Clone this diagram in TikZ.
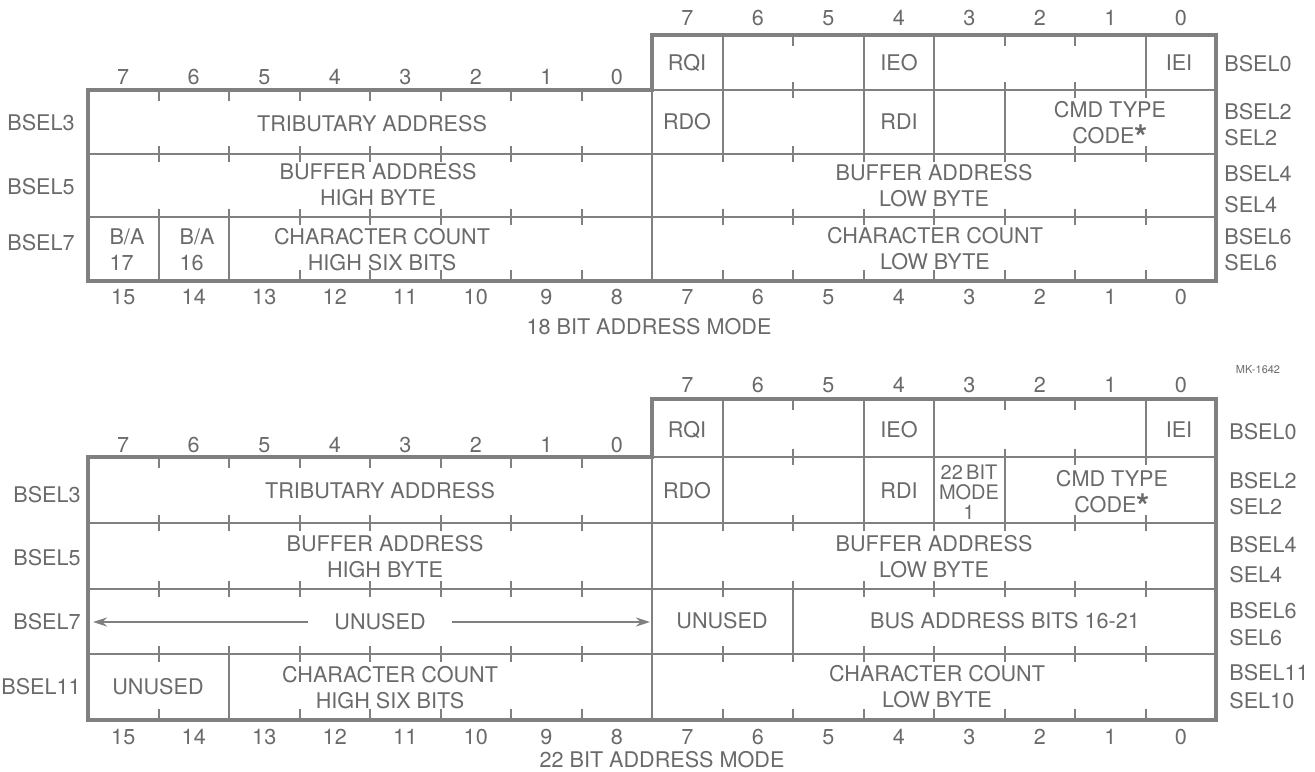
\documentclass[tikz,border=0pt]{standalone}
\usepackage{fontspec}
\setmainfont{TeX Gyre Heros}
\usetikzlibrary{arrows.meta}
\definecolor{ink}{HTML}{808080}
\definecolor{txt}{HTML}{6A6A6A}
\newcommand\fld{\fontsize{10.8}{13}\selectfont}
\newcommand\cmdstar{\raisebox{-3pt}[0pt][0pt]{\fontsize{17}{17}\selectfont\bfseries*}}
\tikzset{frame/.style={draw=ink,line width=1.7pt},rule/.style={draw=ink,line width=1.4pt},divider/.style={draw=ink,line width=1pt},tick/.style={draw=ink,line width=1pt},field/.style={text=txt,font=\fld,align=center,inner sep=0pt},bitno/.style={text=txt,font=\fld,inner sep=0pt},reg/.style={text=txt,font=\fld,inner sep=0pt},arr/.style={draw=ink,line width=1pt,-{Stealth[length=7pt,width=4.5pt]}}}

\begin{document}
\begin{tikzpicture}[x=0.5pt,y=-0.5pt]
\useasboundingbox (0,0) rectangle (1315,771);
% 18 bit address mode
\draw[frame] (88,90) -- (652,90) -- (652,35) -- (1216,35) -- (1216,281) -- (88,281) -- cycle;
\draw[rule] (652,90) -- (1216,90) (88,154) -- (1216,154) (88,217) -- (1216,217) (652,90) -- (652,281);
\foreach \k in {9,11,12,15}\draw[divider] ({88+70.5*\k},35) -- ({88+70.5*\k},90);
\foreach \k in {9,11,12,13}\draw[divider] ({88+70.5*\k},90) -- ({88+70.5*\k},154);
\foreach \k in {1,2}\draw[divider] ({88+70.5*\k},217) -- ({88+70.5*\k},281);
\foreach \k in {1,...,7}\draw[tick] ({88+70.5*\k},90) -- ++(0,11);
\foreach \k in {9,...,15}\draw[tick] ({88+70.5*\k},35) -- ++(0,11) ({88+70.5*\k},82) -- ++(0,16);
\foreach \k in {1,...,15}\draw[tick] ({88+70.5*\k},146) -- ++(0,16) ({88+70.5*\k},209) -- ++(0,16) ({88+70.5*\k},281) -- ++(0,-11);
\foreach \b [count=\i from 0] in {7,6,...,0}{
  \node[bitno] (ta\i) at ({687.25+70.5*\i},18) {\b};
  \node[bitno] (la\i) at ({123.25+70.5*\i},77) {\b};}
\foreach \b [count=\i from 0] in {15,14,...,0}\node[bitno] (ba\i) at ({123.25+70.5*\i},297) {\b};
\node[field] (rqia) at (687,63) {RQI};
\node[field] (ieoa) at (899,63) {IEO};
\node[field] (ieia) at (1179,63) {IEI};
\node[field] (rdoa) at (687,122) {RDO};
\node[field] (rdia) at (899,122) {RDI};
\node[field] (cmda) at (1110,123) {CMD TYPE\\CODE\cmdstar};
\node[field] (triba) at (372,124) {TRIBUTARY ADDRESS};
\node[field] (bufha) at (378,185) {BUFFER ADDRESS\\HIGH BYTE};
\node[field] (bufla) at (934,186) {BUFFER ADDRESS\\LOW BYTE};
\node[field,align=left] (ba17) at (127,249.5) {B/A\\17};
\node[field,align=left] (ba16) at (197,249.5) {B/A\\16};
\node[field] (chrha) at (382,249.5) {CHARACTER COUNT\\HIGH SIX BITS};
\node[field] (chrla) at (935,249) {CHARACTER COUNT\\LOW BYTE};
\foreach \t/\y [count=\i] in {BSEL3/123,BSEL5/187,BSEL7/243}\node[reg,anchor=east] (lra\i) at (75,\y) {\t};
\foreach \t/\y [count=\i] in {BSEL0/64,BSEL2/112,SEL2/138,BSEL4/174,SEL4/205,BSEL6/237,SEL6/263}\node[reg,anchor=west] (rra\i) at (1224,\y) {\t};
\node[field] (titlea) at (649,327) {18 BIT ADDRESS MODE};
\node[field,font=\fontsize{5.5}{6}\selectfont] (mkno) at (1258,370) {MK-1642};
% 22 bit address mode
\draw[frame] (88,457) -- (652,457) -- (652,399) -- (1216,399) -- (1216,720) -- (88,720) -- cycle;
\draw[rule] (652,457) -- (1216,457) (88,523) -- (1216,523) (88,589) -- (1216,589) (88,654) -- (1216,654) (652,457) -- (652,720);
\foreach \k in {9,11,12,15}\draw[divider] ({88+70.5*\k},399) -- ({88+70.5*\k},457);
\foreach \k in {9,11,12,13}\draw[divider] ({88+70.5*\k},457) -- ({88+70.5*\k},523);
\draw[divider] ({88+70.5*10},589) -- ({88+70.5*10},654);
\draw[divider] ({88+70.5*2},654) -- ({88+70.5*2},720);
\foreach \k in {1,...,7}\draw[tick] ({88+70.5*\k},457) -- ++(0,11);
\foreach \k in {9,...,15}\draw[tick] ({88+70.5*\k},399) -- ++(0,11) ({88+70.5*\k},449) -- ++(0,16);
\foreach \k in {1,...,15}\draw[tick] ({88+70.5*\k},515) -- ++(0,16) ({88+70.5*\k},581) -- ++(0,16) ({88+70.5*\k},646) -- ++(0,16) ({88+70.5*\k},720) -- ++(0,-11);
\foreach \b [count=\i from 0] in {7,6,...,0}{
  \node[bitno] (tb\i) at ({687.25+70.5*\i},385) {\b};
  \node[bitno] (lb\i) at ({123.25+70.5*\i},445) {\b};}
\foreach \b [count=\i from 0] in {15,14,...,0}\node[bitno] (bb\i) at ({123.25+70.5*\i},737) {\b};
\node[field] (rqib) at (687,430) {RQI};
\node[field] (ieob) at (899,430) {IEO};
\node[field] (ieib) at (1179,430) {IEI};
\node[field] (rdob) at (687,491) {RDO};
\node[field] (rdib) at (899,491) {RDI};
\node[field,font=\fontsize{10}{10}\selectfont] (modeb) at (969,492) {22\,BIT\\MODE\\1};
\node[field] (cmdb) at (1112,492) {CMD TYPE\\CODE\cmdstar};
\node[field] (tribb) at (380,491) {TRIBUTARY ADDRESS};
\node[field] (bufhb) at (385,556.5) {BUFFER ADDRESS\\HIGH BYTE};
\node[field] (buflb) at (934,556.5) {BUFFER ADDRESS\\LOW BYTE};
\node[field,inner xsep=13pt] (unusl) at (380,622) {UNUSED};
\coordinate (lend) at (93,622);
\coordinate (mend) at (650,622);
\draw[arr] (unusl) -- (lend);
\draw[arr] (unusl) -- (mend);
\node[field] (unusr) at (722,621) {UNUSED};
\node[field] (busb) at (1005,621) {BUS ADDRESS BITS 16-21};
\node[field] (unusc) at (158,687) {UNUSED};
\node[field] (chrhb) at (390,688) {CHARACTER COUNT\\HIGH SIX BITS};
\node[field] (chrlb) at (937,686.5) {CHARACTER COUNT\\LOW BYTE};
\foreach \t/\y [count=\i] in {BSEL3/495,BSEL5/558,BSEL7/622,BSEL11/687}\node[reg,anchor=east] (lrb\i) at (81,\y) {\t};
\foreach \t/\y [count=\i] in {BSEL0/432,BSEL2/481,SEL2/507,BSEL4/545,SEL4/575,BSEL6/611,SEL6/638,BSEL11/673,SEL10/701}\node[reg,anchor=west] (rrb\i) at (1229,\y) {\t};
\node[field] (titleb) at (662,760) {22 BIT ADDRESS MODE};
\end{tikzpicture}
\end{document}
